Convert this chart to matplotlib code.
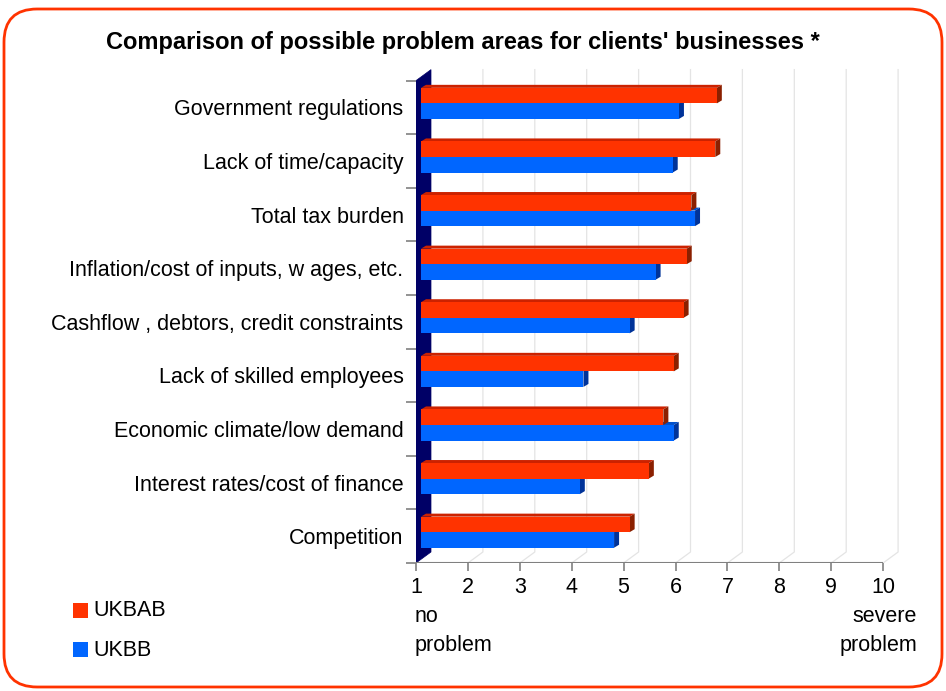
import numpy as np
import matplotlib
matplotlib.use("Agg")
import matplotlib.pyplot as plt
from matplotlib.patches import Polygon, FancyBboxPatch

plt.rcParams["font.family"] = ["Liberation Sans", "DejaVu Sans"]

# categories listed bottom to top
categories = [
    "Competition",
    "Interest rates/cost of finance",
    "Economic climate/low demand",
    "Lack of skilled employees",
    "Cashflow , debtors, credit constraints",
    "Inflation/cost of inputs, w ages, etc.",
    "Total tax burden",
    "Lack of time/capacity",
    "Government regulations",
]
ukbab = [5.02, 5.39, 5.67, 5.87, 6.06, 6.12, 6.21, 6.67, 6.70]
ukbb = [4.72, 4.06, 5.87, 4.13, 5.02, 5.52, 6.28, 5.85, 5.97]
scale_ticks = list(range(1, 11))

RED, RED_TOP, RED_SIDE = "#FF3300", "#CC2200", "#8B2000"
BLUE, BLUE_TOP, BLUE_SIDE = "#0066FF", "#0050CC", "#003399"
WALL = "#000066"
GRID = "#E4E4E4"
AXIS = "#808080"
FS = 15.5

W, H = 946, 691
fig = plt.figure(figsize=(W / 100, H / 100), dpi=100)

# plot area: x=1 at px 416, 51.9 px per unit; row height 53.6 px, floor at px 563
xmax, ymax = 10.4, 9.3
ax = fig.add_axes([416 / W, (H - 563) / H, (xmax - 1) * 51.9 / W, ymax * 53.6 / H])
ax.set_xlim(1, xmax)
ax.set_ylim(0, ymax)
for s in ax.spines.values():
    s.set_visible(False)

n = len(categories)
# depth of the 3-D box in data units
dX, dY = 15 / 51.9, 11 / 53.6
# bar offset into the box, bar depth
ox = 5 / 51.9
bx, by = 5 / 51.9, 3 / 53.6

# grid lines on floor and back
for v in scale_ticks[1:]:
    ax.plot([v, v + dX, v + dX], [0, dY, n + dY], color=GRID, lw=0.9, zorder=1)

# left wall
ax.add_patch(Polygon([(1, 0), (1, n), (1 + dX, n + dY), (1 + dX, dY)],
                     closed=True, facecolor=WALL, edgecolor=WALL, lw=0.5, zorder=2))

# floor front edge
ax.plot([1, 10], [0, 0], color=AXIS, lw=1.5, zorder=3, solid_capstyle="butt")

bar_h = 0.29
y_idx = np.arange(n)
red_y = y_idx + 0.72
blue_y = y_idx + 0.43


def bar3d(y, vals, front, top, side, z):
    left = 1 + ox
    widths = np.array(vals) - 1
    for yc, w in zip(y, widths):
        r = left + w
        t, b = yc + bar_h / 2, yc - bar_h / 2
        ax.add_patch(Polygon([(left, t), (r, t), (r + bx, t + by), (left + bx, t + by)],
                             closed=True, facecolor=top, edgecolor="none", zorder=z))
        ax.add_patch(Polygon([(r, b), (r, t), (r + bx, t + by), (r + bx, b + by)],
                             closed=True, facecolor=side, edgecolor="none", zorder=z))
    ax.barh(y, widths, height=bar_h, left=left, color=front, zorder=z + 0.5)


bar3d(blue_y, ukbb, BLUE, BLUE_TOP, BLUE_SIDE, 4)
bar3d(red_y, ukbab, RED, RED_TOP, RED_SIDE, 6)

# axes ticks
ax.set_xticks(scale_ticks)
ax.set_xticklabels([str(t) for t in scale_ticks], fontsize=FS)
ax.tick_params(axis="x", direction="out", length=6, width=1.2, color=AXIS, pad=4)
ax.set_yticks(np.arange(n + 1))
ax.set_yticklabels([])
ax.set_yticks(y_idx + 0.5, minor=True)
ax.set_yticklabels(categories, minor=True, fontsize=FS)
ax.tick_params(axis="y", which="major", direction="out", length=7, width=1.2, color=AXIS)
ax.tick_params(axis="y", which="minor", length=0, pad=9)

# scale end captions
fig.text(415 / W, 1 - 617 / H, "no", fontsize=FS, ha="left", va="center")
fig.text(415 / W, 1 - 646 / H, "problem", fontsize=FS, ha="left", va="center")
fig.text(917 / W, 1 - 617 / H, "severe", fontsize=FS, ha="right", va="center")
fig.text(917 / W, 1 - 646 / H, "problem", fontsize=FS, ha="right", va="center")

# legend
for yy, col, lab in [(611, RED, "UKBAB"), (650, BLUE, "UKBB")]:
    fig.patches.append(plt.Rectangle((73 / W, 1 - (yy + 7) / H), 15 / W, 15 / H,
                                     transform=fig.transFigure, facecolor=col,
                                     edgecolor="none"))
    fig.text(93 / W, 1 - yy / H, lab, fontsize=FS, ha="left", va="center")

fig.text(463 / W, 1 - 42 / H, "Comparison of possible problem areas for clients' businesses *",
         fontsize=17, fontweight="bold", ha="center", va="center")

# rounded frame
fig.patches.append(FancyBboxPatch((4 / W, 4 / H), 938 / W, 678 / H,
                                  boxstyle="round,pad=0,rounding_size=0.035",
                                  transform=fig.transFigure, facecolor="none",
                                  edgecolor="#FF3300", lw=2, mutation_aspect=W / H))

fig.savefig("out.png", dpi=100)
